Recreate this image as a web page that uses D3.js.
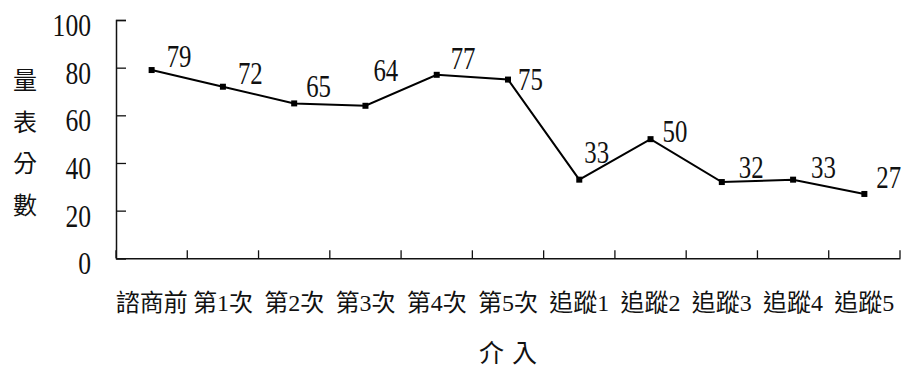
<!DOCTYPE html>
<html>
<head>
<meta charset="utf-8">
<script src="https://cdn.jsdelivr.net/npm/d3@7"></script>
<style>
  body { margin: 0; background: #fff; }
  text { font-family: "Liberation Serif", "Noto Sans CJK TC", serif; fill: #111; }
</style>
</head>
<body>
<div id="chart"></div>
<script>
// categories and scores
const categories = ["諮商前", "第1次", "第2次", "第3次", "第4次", "第5次", "追蹤1", "追蹤2", "追蹤3", "追蹤4", "追蹤5"];
const scores = [79, 72, 65, 64, 77, 75, 33, 50, 32, 33, 27];
const yTicks = [0, 20, 40, 60, 80, 100];
const yTitle = ["量", "表", "分", "數"];
const xTitle = "介入";

// where each value label sits relative to its point (dx, dy in px), as in the original
const labelOffsets = [[15, -3], [15, -3], [12, -6], [8, -25], [14, -6], [10, 10],
                      [5, -17], [12, 3], [17, -4], [18, -2], [12, -6]];

const W = 905, H = 367;
const m = { t: 20, r: 5, b: 109, l: 116 };

const svg = d3.select("#chart").append("svg")
    .attr("width", W)
    .attr("height", H);

// scales
let x = d3.scaleBand().domain(categories).range([m.l, 900]).padding(0);
let y = d3.scaleLinear().domain([0, 100]).range([258.3, m.t]);

const cx = (c) => x(c) + x.bandwidth() / 2;

// digits look condensed in the original, squeeze them a bit
const sq = 0.8;

// y axis, ticks pointing inward
let gy = svg.append("g")
    .attr("transform", "translate(" + m.l + ",0)")
    .call(d3.axisLeft(y).tickValues(yTicks).tickSize(-10).tickPadding(25).tickFormat(d3.format("d")));
gy.select(".domain").attr("stroke", "#111").attr("stroke-width", 1.5);
gy.selectAll(".tick line").attr("stroke", "#111").attr("stroke-width", 1.3);
gy.selectAll(".tick text")
    .attr("font-size", 32)
    .attr("font-family", "Liberation Serif")
    .attr("x", -25 / sq)
    .attr("dy", "0.48em")
    .attr("transform", "scale(" + sq + ",1)");

// x axis: labels from the axis, tick marks on band edges
let gx = svg.append("g")
    .attr("transform", "translate(0," + y(0) + ")")
    .call(d3.axisBottom(x).tickSize(0).tickPadding(36));
gx.select(".domain").attr("stroke", "#111").attr("stroke-width", 1.5);
gx.selectAll(".tick text").attr("font-size", 24);

let edges = categories.map(c => x(c)).concat([x.range()[1]]);
gx.selectAll("line.edge")
    .data(edges)
    .enter().append("line")
    .attr("class", "edge")
    .attr("x1", d => d)
    .attr("x2", d => d)
    .attr("y1", 0)
    .attr("y2", -8)
    .attr("stroke", "#111")
    .attr("stroke-width", 1.3);

// axis titles
svg.selectAll("text.ytitle")
    .data(yTitle)
    .enter().append("text")
    .attr("class", "ytitle")
    .attr("x", 25)
    .attr("y", (d, i) => 89 + i * 41.5)
    .attr("text-anchor", "middle")
    .attr("font-size", 24)
    .text(d => d);

svg.append("text")
    .attr("x", (m.l + 900) / 2 + 4)
    .attr("y", 362)
    .attr("text-anchor", "middle")
    .attr("font-size", 25)
    .attr("letter-spacing", 8)
    .text(xTitle);

// line
let line = d3.line()
    .x((d, i) => cx(categories[i]))
    .y(d => y(d));

svg.append("path")
    .datum(scores)
    .attr("d", line)
    .attr("fill", "none")
    .attr("stroke", "#000")
    .attr("stroke-width", 2);

// square markers
svg.selectAll("rect.mk")
    .data(scores)
    .enter().append("rect")
    .attr("class", "mk")
    .attr("x", (d, i) => cx(categories[i]) - 3)
    .attr("y", d => y(d) - 3)
    .attr("width", 6)
    .attr("height", 6)
    .attr("fill", "#000");

// value labels
svg.selectAll("text.val")
    .data(scores)
    .enter().append("text")
    .attr("class", "val")
    .attr("transform", (d, i) => "translate(" + (cx(categories[i]) + labelOffsets[i][0]) + "," + (y(d) + labelOffsets[i][1]) + ") scale(" + sq + ",1)")
    .attr("font-size", 31)
    .attr("font-family", "Liberation Serif")
    .text(d => d);
</script>
</body>
</html>
